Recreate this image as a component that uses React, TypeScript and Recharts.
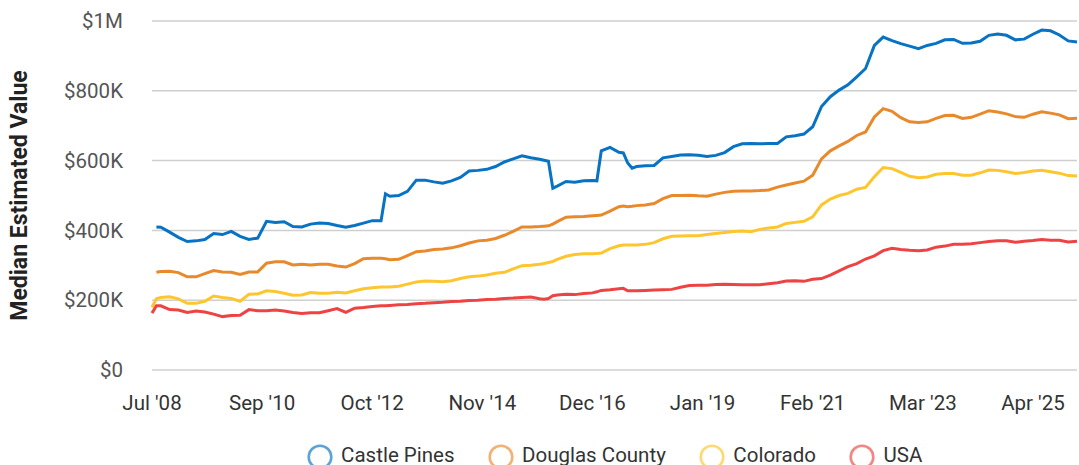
import React from 'react';
import { LineChart, Line, XAxis, YAxis, CartesianGrid } from 'recharts';

// x positions (months since Jul 2008)
const months = [
  0, 1, 2, 4, 6, 8, 10, 12, 14, 16, 18, 20, 22, 24, 26, 28, 30, 32, 34, 36, 38, 40, 42, 44, 46, 48, 50,
  52, 53, 54, 56, 58, 60, 62, 64, 66, 68, 70, 72, 74, 76, 78, 80, 82, 84, 86, 88, 89, 90, 91, 92, 94, 96,
  98, 100, 101, 102, 104, 106, 107, 108, 109, 110, 112, 114, 116, 118, 120, 122, 124, 126, 128, 130, 132,
  134, 136, 138, 140, 142, 144, 146, 148, 150, 152, 154, 156, 158, 160, 162, 164, 166, 168, 170, 172, 174,
  176, 178, 180, 182, 184, 186, 188, 190, 192, 194, 196, 198, 200, 202, 204, 206, 208, 210,
];

// values in $K
const castlePines = [
  null, 410, 409, 395, 380, 368, 370, 374, 391, 388, 397, 383, 374, 378, 426, 423, 425, 411, 410, 418, 421, 420, 414, 409, 414, 421, 428,
  428, 505, 498, 500, 512, 544, 544, 539, 535, 542, 552, 570, 572, 575, 583, 596, 605, 614, 608, 604, 601, 598, 521, 527, 540, 538,
  542, 543, 542, 628, 638, 624, 622, 593, 578, 583, 585, 586, 608, 612, 616, 617, 615, 612, 615, 623, 640,
  648, 649, 648, 649, 649, 668, 671, 676, 697, 755, 783, 802, 817, 840, 864, 930, 954, 944, 935, 928, 921,
  930, 936, 946, 947, 936, 937, 942, 959, 963, 959, 946, 948, 962, 974, 972, 960, 943, 940,
];

const douglasCounty = [
  null, 280, 282, 283, 279, 267, 267, 276, 285, 281, 280, 274, 281, 281, 306, 310, 310, 301, 303, 301, 303, 303, 298, 295, 305, 319, 320,
  320, 319, 316, 317, 328, 339, 341, 345, 347, 350, 356, 364, 370, 372, 377, 386, 397, 410, 410, 411, 412, 413, 418, 425, 438, 439,
  440, 442, 443, 444, 455, 468, 470, 468, 469, 471, 473, 477, 491, 500, 500, 501, 499, 498, 504, 509, 512,
  513, 513, 514, 516, 524, 530, 536, 541, 558, 605, 628, 642, 655, 672, 682, 725, 749, 741, 723, 711, 709,
  711, 721, 729, 730, 721, 724, 733, 743, 739, 734, 726, 724, 733, 740, 736, 731, 720, 721,
];

const colorado = [
  180, 204, 208, 210, 204, 191, 191, 197, 212, 208, 205, 197, 217, 218, 227, 225, 220, 214, 215, 222, 220, 220, 223, 221, 227, 233, 236,
  238, 238, 238, 240, 246, 252, 255, 254, 253, 256, 262, 267, 269, 272, 277, 280, 290, 299, 300, 303, 305, 308, 311, 317, 326, 331,
  333, 333, 334, 335, 348, 356, 358, 358, 358, 358, 360, 365, 376, 383, 384, 385, 385, 388, 391, 394, 397,
  398, 396, 403, 407, 410, 420, 423, 426, 439, 473, 490, 500, 506, 518, 523, 554, 580, 577, 566, 555, 551,
  553, 561, 563, 563, 558, 558, 565, 573, 572, 568, 563, 566, 570, 572, 568, 564, 557, 556,
];

const usa = [
  163, 184, 184, 173, 172, 165, 169, 166, 160, 153, 156, 157, 173, 170, 170, 172, 169, 165, 162, 164, 164, 170, 176, 165, 177, 179, 182,
  184, 184, 185, 187, 188, 190, 191, 193, 194, 196, 197, 199, 200, 202, 203, 205, 206, 208, 209, 204, 203, 205, 213, 215, 217, 216,
  219, 221, 224, 228, 230, 233, 234, 227, 227, 227, 228, 229, 230, 231, 237, 242, 243, 243, 245, 246, 245,
  244, 244, 244, 247, 250, 255, 256, 254, 260, 262, 272, 284, 296, 305, 318, 327, 342, 349, 345, 343, 342,
  344, 352, 355, 360, 360, 362, 365, 368, 370, 370, 366, 369, 371, 374, 372, 372, 367, 369,
];

const xTicks = [0, 25, 50, 75, 100, 125, 150, 175, 200];
const xTickLabels = ["Jul '08", "Sep '10", "Oct '12", "Nov '14", "Dec '16", "Jan '19", "Feb '21", "Mar '23", "Apr '25"];
const yTicks = [0, 200, 400, 600, 800, 1000];
const yTickLabels = ['$0', '$200K', '$400K', '$600K', '$800K', '$1M'];

const seriesNames = ['Castle Pines', 'Douglas County', 'Colorado', 'USA'];
const seriesKeys = ['castle', 'douglas', 'colorado', 'usa'];
const seriesColors = ['#0872c3', '#e8892b', '#fec62e', '#ee4343'];

const data = months.map((m, k) => ({
  m,
  castle: castlePines[k],
  douglas: douglasCounty[k],
  colorado: colorado[k],
  usa: usa[k],
}));

const FONT = 'Roboto, "Noto Sans", sans-serif';

export default function App() {
  return (
    <div style={{ position: 'absolute', left: 0, top: 0, width: 1079, height: 465, background: '#fff', fontFamily: FONT }}>
      <LineChart
        width={1079}
        height={465}
        data={data}
        margin={{ top: 21, right: 2, bottom: 55, left: 0 }}
        style={{ fontFamily: FONT }}
      >
        <CartesianGrid vertical={false} stroke="#cfcfcf" strokeWidth={1.5} />
        <XAxis
          dataKey="m"
          type="number"
          domain={[0, 210]}
          ticks={xTicks}
          tickFormatter={(v: number) => xTickLabels[xTicks.indexOf(v)] ?? ''}
          axisLine={false}
          tickLine={false}
          tickSize={0}
          tickMargin={25}
          height={40}
          interval={0}
          tick={{ fill: '#333', fontSize: 20.5 }}
        />
        <YAxis
          domain={[0, 1000]}
          ticks={yTicks}
          tickFormatter={(v: number) => yTickLabels[yTicks.indexOf(v)] ?? ''}
          axisLine={false}
          tickLine={false}
          tickSize={0}
          tickMargin={29}
          width={152}
          interval={0}
          tick={{ fill: '#555', fontSize: 20.5 }}
          label={{
            value: 'Median Estimated Value',
            angle: -90,
            position: 'insideLeft',
            offset: 19,
            style: { textAnchor: 'middle', fontWeight: 700, fontSize: 23, fill: '#222' },
          }}
        />
        {seriesKeys.map((k, i) => (
          <Line
            key={k}
            type="linear"
            dataKey={k}
            name={seriesNames[i]}
            stroke={seriesColors[i]}
            strokeWidth={3}
            dot={false}
            activeDot={false}
            connectNulls
            isAnimationActive={false}
          />
        ))}
      </LineChart>
      <div
        style={{
          position: 'absolute',
          left: 152,
          width: 925,
          top: 441.5,
          height: 26,
          display: 'flex',
          justifyContent: 'center',
          alignItems: 'flex-start',
          lineHeight: '26px',
          fontSize: 20.5,
          color: '#333',
          whiteSpace: 'nowrap',
        }}
      >
        {seriesNames.map((n, i) => (
          <div key={n} style={{ display: 'flex', alignItems: 'flex-start', marginLeft: i === 0 ? 0 : 33 }}>
            <svg width={26} height={26} style={{ marginTop: 2, marginRight: 8.5, display: 'block' }}>
              <circle cx={13} cy={13} r={11.3} fill="none" stroke={seriesColors[i]} strokeOpacity={0.65} strokeWidth={2.6} />
            </svg>
            <span>{n}</span>
          </div>
        ))}
      </div>
    </div>
  );
}
